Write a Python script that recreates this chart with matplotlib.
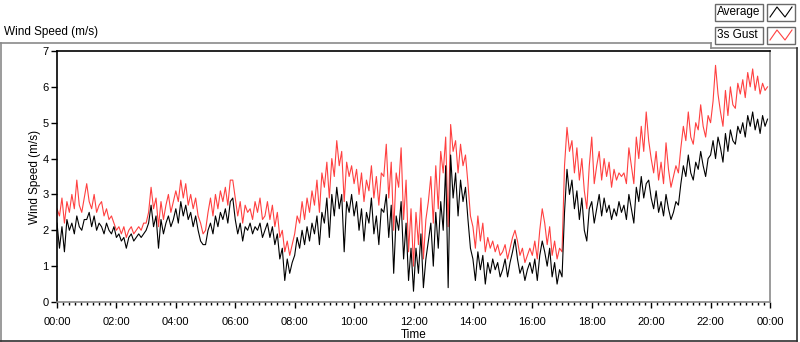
import matplotlib
matplotlib.use("Agg")
import matplotlib.pyplot as plt
from matplotlib.lines import Line2D
from matplotlib.patches import Rectangle
import numpy as np

plt.rcParams['font.family'] = ['Liberation Sans', 'DejaVu Sans']

# 5-minute samples, one row per hour (00:00 .. 23:55)
avg_rows = [
    [2.2, 1.5, 2.1, 1.4, 2.3, 2.0, 2.2, 1.9, 2.4, 2.1, 2.0, 2.3],
    [2.3, 2.5, 2.1, 2.4, 2.0, 2.2, 2.1, 1.9, 2.2, 2.0, 1.9, 2.1],
    [1.8, 1.9, 1.7, 1.8, 1.5, 1.8, 1.9, 1.7, 1.8, 1.9, 1.8, 1.9],
    [2.0, 2.2, 2.7, 2.1, 2.4, 1.5, 2.3, 1.9, 2.2, 2.4, 2.1, 2.3],
    [2.6, 2.2, 2.8, 2.4, 2.7, 2.3, 2.5, 2.1, 2.4, 2.0, 1.7, 1.6],
    [1.6, 2.0, 2.2, 1.9, 2.4, 2.1, 2.5, 2.3, 2.6, 2.2, 2.8, 2.9],
    [2.3, 1.9, 2.2, 1.7, 2.1, 2.0, 2.2, 1.9, 2.1, 2.0, 2.2, 1.8],
    [2.0, 2.2, 1.8, 2.1, 1.6, 1.9, 1.2, 1.5, 0.6, 1.2, 0.8, 1.1],
    [1.3, 1.8, 1.5, 2.0, 1.6, 2.1, 1.7, 2.2, 1.9, 2.4, 1.6, 2.5],
    [2.2, 2.9, 1.8, 3.0, 2.4, 3.2, 2.6, 3.0, 1.4, 2.8, 2.5, 3.0],
    [2.4, 2.8, 2.0, 2.6, 1.7, 2.5, 2.2, 2.9, 1.9, 2.4, 1.6, 2.6],
    [2.5, 3.0, 1.8, 2.7, 0.8, 2.4, 2.0, 2.8, 1.2, 2.2, 0.6, 1.5],
    [0.3, 1.5, 0.8, 1.9, 0.4, 1.2, 1.7, 2.2, 1.0, 2.5, 1.5, 2.8],
    [2.0, 3.8, 0.4, 4.1, 2.9, 3.6, 2.4, 3.4, 2.8, 3.2, 2.3, 1.5],
    [1.2, 0.6, 1.4, 0.9, 1.3, 0.5, 1.1, 0.8, 1.2, 0.9, 1.1, 0.7],
    [0.9, 1.2, 0.7, 1.1, 1.4, 1.75, 1.2, 0.8, 1.0, 0.6, 0.9, 1.1],
    [0.8, 1.2, 0.6, 1.3, 1.7, 1.4, 1.0, 1.5, 0.7, 1.1, 0.5, 0.9],
    [0.7, 2.5, 3.7, 3.0, 3.4, 2.6, 3.1, 2.3, 2.9, 2.0, 1.7, 2.6],
    [2.8, 2.2, 2.6, 3.0, 2.4, 2.9, 2.5, 2.7, 2.3, 2.6, 2.4, 2.8],
    [2.5, 2.7, 2.3, 3.0, 2.6, 2.2, 3.2, 2.8, 3.5, 2.9, 3.3, 3.4],
    [2.9, 2.6, 3.1, 2.5, 2.8, 2.4, 3.0, 2.6, 2.3, 2.5, 2.8, 2.7],
    [3.3, 3.8, 3.5, 4.1, 3.6, 3.4, 3.9, 3.7, 4.2, 3.8, 3.5, 4.0],
    [4.1, 4.5, 4.0, 4.6, 4.3, 3.9, 4.7, 4.2, 4.8, 4.5, 4.4, 4.9],
    [4.7, 5.0, 4.6, 5.2, 4.9, 5.3, 4.8, 5.1, 4.7, 5.2, 4.9, 5.1],
]
gust_rows = [
    [2.6, 2.4, 2.9, 2.2, 2.8, 2.5, 3.0, 2.6, 3.4, 2.7, 2.5, 2.9],
    [3.3, 2.8, 2.6, 3.0, 2.5, 2.7, 2.8, 2.4, 2.6, 2.3, 2.4, 2.2],
    [2.0, 2.1, 1.9, 2.1, 1.8, 2.0, 2.1, 1.9, 2.0, 2.1, 2.0, 2.2],
    [2.2, 2.5, 3.2, 2.6, 2.9, 2.1, 2.8, 2.3, 2.7, 3.0, 2.5, 2.8],
    [3.1, 2.8, 3.4, 2.9, 3.3, 2.7, 3.0, 2.6, 2.9, 2.4, 2.2, 1.9],
    [2.0, 2.5, 2.9, 2.4, 3.0, 2.6, 3.1, 2.8, 3.2, 2.7, 3.4, 3.4],
    [2.9, 2.4, 2.8, 2.2, 2.7, 2.5, 2.6, 2.3, 2.8, 2.5, 2.9, 2.3],
    [2.4, 2.8, 2.3, 2.7, 2.1, 2.5, 1.8, 2.0, 1.4, 1.7, 1.3, 1.6],
    [1.9, 2.4, 2.2, 2.8, 2.3, 2.9, 2.5, 3.1, 2.7, 3.4, 2.5, 3.6],
    [3.2, 3.9, 2.9, 4.0, 3.5, 4.5, 3.8, 4.2, 2.8, 3.9, 3.5, 3.8],
    [3.3, 3.7, 3.0, 3.6, 2.8, 3.4, 3.1, 3.8, 2.9, 3.5, 2.7, 3.6],
    [3.5, 4.4, 2.9, 3.9, 2.0, 3.6, 3.2, 4.3, 2.3, 3.4, 1.4, 2.6],
    [1.0, 2.5, 1.6, 2.9, 1.2, 2.3, 2.8, 3.5, 2.2, 3.8, 2.6, 4.2],
    [3.6, 4.6, 2.1, 4.95, 4.2, 4.5, 3.6, 4.4, 3.8, 4.1, 3.3, 2.4],
    [2.1, 1.5, 2.4, 1.7, 2.2, 1.4, 1.8, 1.5, 1.7, 1.4, 1.6, 1.3],
    [1.4, 1.6, 1.2, 1.5, 1.8, 2.0, 1.7, 1.3, 1.5, 1.1, 1.3, 1.5],
    [1.3, 1.7, 1.2, 2.0, 2.6, 2.2, 1.6, 2.1, 1.3, 1.7, 1.2, 1.5],
    [1.4, 3.8, 4.87, 4.2, 4.5, 3.6, 4.3, 3.4, 4.0, 3.1, 2.6, 3.8],
    [4.6, 3.3, 3.8, 4.2, 3.4, 4.0, 3.5, 3.9, 3.2, 3.7, 3.4, 3.6],
    [3.5, 3.6, 3.3, 4.3, 3.8, 3.3, 4.6, 4.0, 4.9, 4.2, 5.3, 4.5],
    [4.0, 3.6, 4.2, 3.4, 3.9, 3.3, 4.44, 3.7, 3.2, 3.5, 3.8, 3.6],
    [4.3, 4.9, 4.5, 5.3, 4.6, 4.4, 5.0, 4.8, 5.5, 4.9, 4.6, 5.2],
    [5.0, 5.6, 6.6, 5.8, 5.3, 4.9, 5.9, 5.2, 6.0, 5.5, 5.4, 6.1],
    [5.8, 6.2, 5.7, 6.4, 6.0, 6.5, 5.9, 6.3, 5.8, 6.1, 5.9, 6.0],
]
avg = np.array(avg_rows).ravel()
gust = np.array(gust_rows).ravel()
hours = np.arange(len(avg)) * 5 / 60.0

x_tick_labels = ["00:00", "02:00", "04:00", "06:00", "08:00", "10:00", "12:00",
                 "14:00", "16:00", "18:00", "20:00", "22:00", "00:00"]
y_ticks = [0, 1, 2, 3, 4, 5, 6, 7]

W, H = 800, 342
fig = plt.figure(figsize=(W / 100, H / 100), dpi=100)

def fx(px):
    return px / W

def fy(py):
    return 1 - py / H

ax = fig.add_axes([fx(57), fy(302), fx(770) - fx(57), fy(51) - fy(302)])
ax.plot(hours, gust, color='#ff4040', lw=0.8)
ax.plot(hours, avg, color='black', lw=0.8)
ax.set_xlim(0, 24)
ax.set_ylim(0, 7)
ax.set_xticks(np.arange(0, 25, 2))
ax.set_xticklabels(x_tick_labels)
ax.set_xticks(np.arange(0, 24.01, 0.2), minor=True)
ax.set_yticks(y_ticks)
ax.tick_params(axis='both', labelsize=8, colors='black', length=4, width=1, pad=2)
ax.tick_params(axis='x', which='minor', length=2.5, width=1)
ax.tick_params(axis='x', which='major', length=4, pad=7)
ax.spines['top'].set_color('black')
ax.spines['left'].set_color('black')
ax.spines['right'].set_color('#8a8a8a')
ax.spines['bottom'].set_color('#8a8a8a')
for s in ax.spines.values():
    s.set_linewidth(1.2)
ax.set_xlabel('Time', fontsize=8.5, labelpad=1)
ax.set_ylabel('Wind Speed (m/s)', fontsize=8.5, labelpad=1)

# outer frame
gray = '#8a8a8a'
frame = [((0, 43), (711, 43), gray), ((711, 43), (711, 48), gray), ((711, 48), (797, 48), gray),
         ((797, 48), (797, 341), '#303030'), ((1, 43), (1, 341), gray), ((0, 341), (797, 341), '#303030')]
for (x0, y0), (x1, y1), c in frame:
    fig.add_artist(Line2D([fx(x0), fx(x1)], [fy(y0), fy(y1)], color=c, lw=1.2))

fig.text(fx(4), fy(32), 'Wind Speed (m/s)', fontsize=8.5, va='center', ha='left')

# legend
def legend_entry(label, y0, y1, color):
    fig.add_artist(Rectangle((fx(715), fy(y1)), fx(763) - fx(715), fy(y0) - fy(y1),
                             fill=False, ec='#6a6a6a', lw=1))
    fig.text(fx(717), (fy(y0) + fy(y1)) / 2, label, fontsize=8.5, va='center', ha='left')
    fig.add_artist(Rectangle((fx(767), fy(y1)), fx(795) - fx(767), fy(y0) - fy(y1),
                             fill=False, ec='#6a6a6a', lw=1))
    xs = [770, 777, 785, 792]
    ys = [y1 - 4, y0 + 3, y1 - 4, y0 + 3]
    fig.add_artist(Line2D([fx(v) for v in xs], [fy(v) for v in ys], color=color, lw=0.8))

legend_entry('Average', 4, 21, 'black')
legend_entry('3s Gust', 27, 44, '#ff4040')

fig.savefig('out.png', dpi=100)
